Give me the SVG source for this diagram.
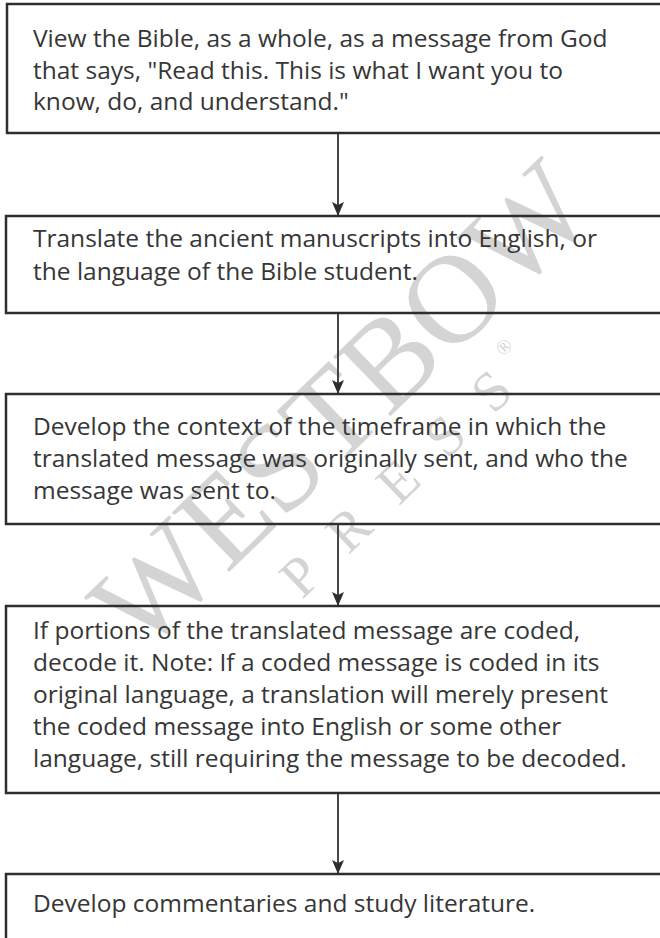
<svg xmlns="http://www.w3.org/2000/svg" width="660" height="938" viewBox="0 0 660 938">
<defs>
<marker id="ah" markerWidth="14" markerHeight="12" refX="13" refY="6" orient="auto" markerUnits="userSpaceOnUse" viewBox="0 0 14 12">
<path d="M0,0 L14,6 L0,12 L3,6 Z" fill="#2e2e2e"/>
</marker>
</defs>
<style>
.box{fill:none;stroke:#2e2e2e;stroke-width:2.5}
.t{font-family:"Open Sans","Noto Sans","Liberation Sans",sans-serif;font-size:24.5px;fill:#363636}
.wm{font-family:"Liberation Serif",serif;fill:#d4d4d4}
.conn line{stroke:#333;stroke-width:1.8}
</style>
<rect x="0" y="0" width="660" height="938" fill="#ffffff"/>
<g id="watermark">
<text class="wm" font-size="126" transform="translate(141,657) rotate(-44)">WESTBOW</text>
<text class="wm" font-size="56" letter-spacing="33" transform="translate(302,600) rotate(-44)">PRESS</text>
<text class="wm" font-size="20" transform="translate(503,357) rotate(-44)">®</text>
</g>
<g id="connectors" class="conn">
<line x1="338" y1="133" x2="338" y2="215" marker-end="url(#ah)"/>
<line x1="338" y1="313" x2="338" y2="393" marker-end="url(#ah)"/>
<line x1="338" y1="524" x2="338" y2="605" marker-end="url(#ah)"/>
<line x1="338" y1="793" x2="338" y2="873" marker-end="url(#ah)"/>
</g>
<g id="node1">
<rect class="box" x="7" y="4" width="660" height="129"/>
<text class="t"><tspan x="33" y="47">View the Bible, as a whole, as a message from God</tspan><tspan x="33" y="79">that says, "Read this. This is what I want you to</tspan><tspan x="33" y="110">know, do, and understand."</tspan></text>
</g>
<g id="node2">
<rect class="box" x="6" y="216" width="660" height="97"/>
<text class="t"><tspan x="33" y="247">Translate the ancient manuscripts into English, or</tspan><tspan x="33" y="280">the language of the Bible student.</tspan></text>
</g>
<g id="node3">
<rect class="box" x="6" y="394" width="660" height="130"/>
<text class="t"><tspan x="33" y="435">Develop the context of the timeframe in which the</tspan><tspan x="33" y="467">translated message was originally sent, and who the</tspan><tspan x="33" y="499">message was sent to.</tspan></text>
</g>
<g id="node4">
<rect class="box" x="6" y="606" width="660" height="187"/>
<text class="t"><tspan x="33" y="639">If portions of the translated message are coded,</tspan><tspan x="33" y="671">decode it. Note: If a coded message is coded in its</tspan><tspan x="33" y="703">original language, a translation will merely present</tspan><tspan x="33" y="735">the coded message into English or some other</tspan><tspan x="33" y="767">language, still requiring the message to be decoded.</tspan></text>
</g>
<g id="node5">
<rect class="box" x="6" y="874" width="660" height="80"/>
<text class="t"><tspan x="33" y="912">Develop commentaries and study literature.</tspan></text>
</g>
</svg>
